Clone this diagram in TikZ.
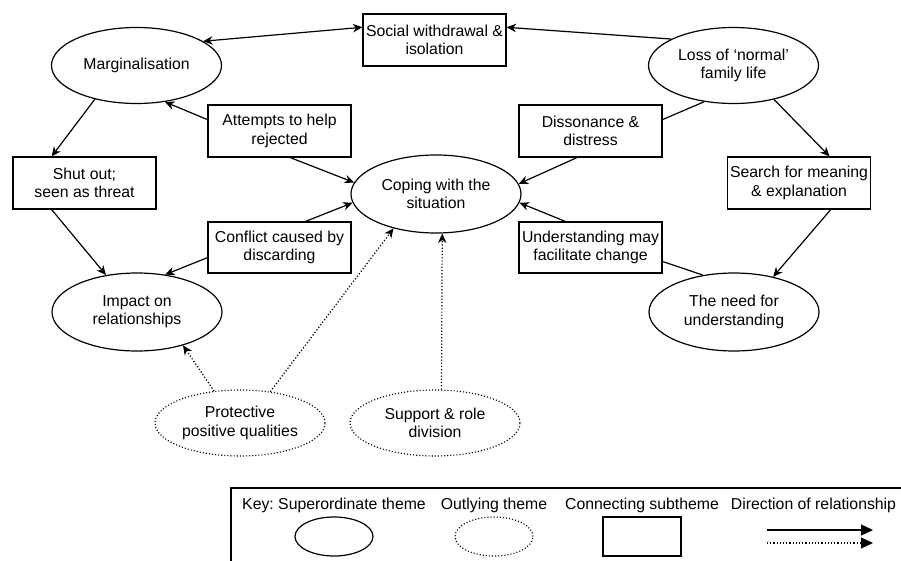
\documentclass[tikz,border=0pt]{standalone}
\usepackage{fontspec}
\setmainfont{Liberation Sans}
\usetikzlibrary{shapes.geometric,arrows.meta}
\frenchspacing
\begin{document}
\begin{tikzpicture}[x=1pt,y=-1pt,
  every node/.style={font=\fontsize{15.8}{18.3}\selectfont, align=center, inner sep=0pt},
  supth/.style={ellipse, draw, line width=1.2pt, minimum width=170pt, minimum height=76pt},
  outth/.style={ellipse, draw, dotted, line width=1.1pt, minimum width=170pt, minimum height=66pt},
  subth/.style={rectangle, draw, line width=1.2pt, minimum width=143pt, minimum height=52pt},
  >={Stealth[length=9.5pt,width=8.5pt,inset=3pt]},
  rel/.style={line width=1.2pt, ->},
  link/.style={line width=1.2pt},
  keytip/.style={line width=1.2pt, -{Triangle[length=12pt,width=11pt]}}
]
\useasboundingbox (0,0) rectangle (901,561);

% superordinate themes
\node[supth] (marg) at (136.5,65.5) {Marginalisation};
\node[supth] (loss) at (733.5,65.5) {Loss of ‘normal’\\family life};
\node[supth, minimum height=78pt] (cop) at (436,194) {Coping with the\\situation};
\node[supth, minimum height=78pt] (imp) at (137,312) {Impact on\\relationships};
\node[supth, minimum height=78pt] (need) at (734,312) {The need for\\understanding};

% outlying themes
\node[outth] (prot) at (240,423) {Protective\\positive qualities};
\node[outth] (sup) at (435,423) {Support \& role\\division};

% connecting subthemes
\node[subth] (soc) at (434.5,40) {Social withdrawal \&\\isolation};
\node[subth] (att) at (279.5,131) {Attempts to help\\rejected};
\node[subth] (shut) at (84.5,183) {Shut out;\\seen as threat};
\node[subth, minimum height=51pt] (conf) at (279.5,247.5) {Conflict caused by\\discarding};
\node[subth] (diss) at (590.5,131) {Dissonance \&\\distress};
\node[subth] (search) at (799,183) {Search for meaning\\\& explanation};
\node[subth, minimum height=51pt] (und) at (590.5,247.5) {Understanding may\\facilitate change};

% connectors
\draw[rel,<->] (marg.20) -- (soc.170);
\draw[rel] (loss.157) -- (soc.10);
\draw[rel] (marg.219) -- (shut.141);
\draw[rel] (att.171) -- (marg.-52);
\draw[rel] (att.-68) -- (cop.172);
\draw[rel] (shut.219) -- (imp.130);
\draw[rel] (conf.45) -- (cop.186);
\draw[rel] (conf.188) -- (imp.53);
\draw[link] (loss.-129) -- (diss.9);
\draw[rel] (diss.-117) -- (cop.7.5);
\draw[rel] (loss.-40) -- (search.41);
\draw[rel] (search.-40) -- (need.42);
\draw[link] (need.130) -- (und.-11);
\draw[rel] (und.134) -- (cop.-6);
\draw[rel,dotted] (prot.129) -- (imp.-36.5);
\draw[rel,dotted] (prot.46) -- (cop.219);
\draw[rel,dotted] (sup.79) -- (cop.-81);

% key
\draw[line width=1.3pt] (901,488) -- (231,488) -- (231,561);
\node[anchor=base] (k1) at (334,509) {Key: Superordinate theme};
\node[anchor=base] (k2) at (494,509) {Outlying theme};
\node[anchor=base] (k3) at (642,509) {Connecting subtheme};
\node[anchor=base] (k4) at (813.5,509) {Direction of relationship};
\node[ellipse, draw, line width=1.2pt, minimum width=78pt, minimum height=39pt] (ke1) at (334,536.5) {};
\node[ellipse, draw, dotted, line width=1.1pt, minimum width=78pt, minimum height=39pt] (ke2) at (494,536.5) {};
\node[rectangle, draw, line width=1.2pt, minimum width=78pt, minimum height=39pt] (ke3) at (642,536.5) {};
\coordinate (a1s) at (767,530);
\coordinate (a1e) at (873,530);
\coordinate (a2s) at (767,543);
\coordinate (a2e) at (873,543);
\draw[keytip] (a1s) -- (a1e);
\draw[keytip,dotted] (a2s) -- (a2e);
\end{tikzpicture}
\end{document}
